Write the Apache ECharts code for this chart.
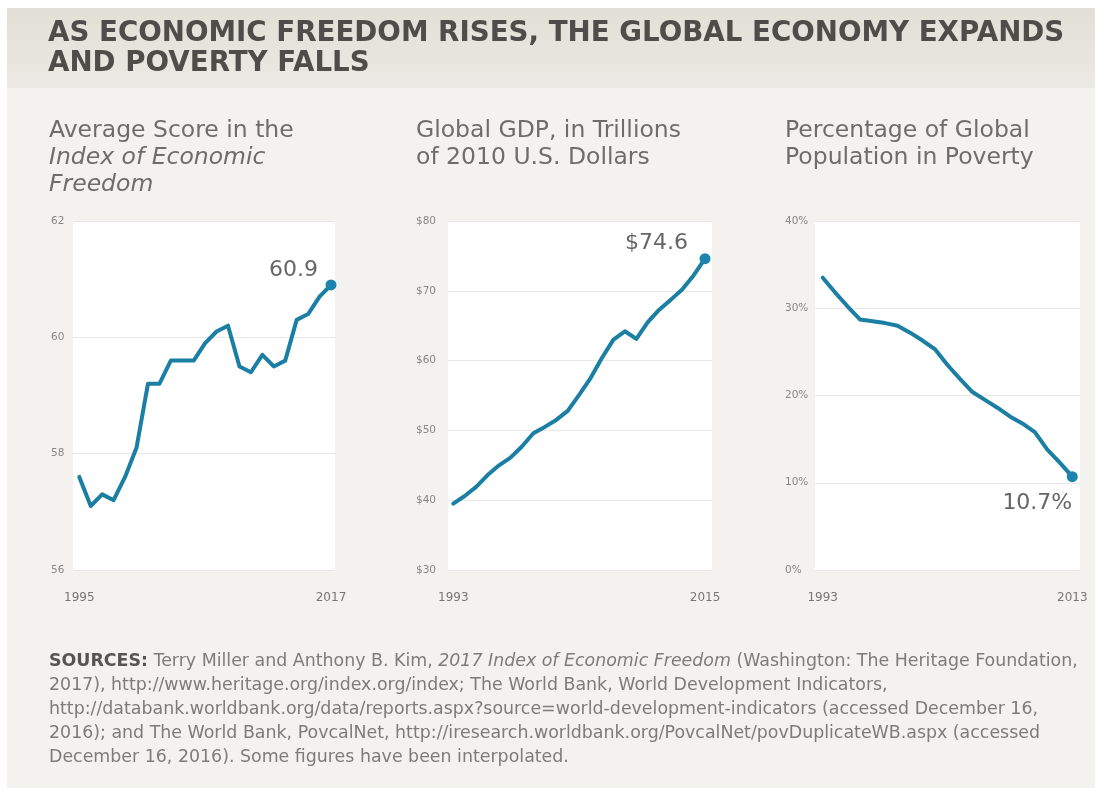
<!DOCTYPE html>
<html>
<head>
<meta charset="utf-8">
<script src="https://cdn.jsdelivr.net/npm/echarts@6/dist/echarts.min.js"></script>
<style>
  html, body { margin: 0; padding: 0; background: #ffffff; }
  #chart { width: 1095px; height: 788px; }
</style>
</head>
<body>
<div id="chart"></div>
<script>
// Average score in the Index of Economic Freedom, 1995–2017
const freedomYears = [1995, 1996, 1997, 1998, 1999, 2000, 2001, 2002, 2003, 2004, 2005, 2006,
  2007, 2008, 2009, 2010, 2011, 2012, 2013, 2014, 2015, 2016, 2017];
const freedomScores = [57.6, 57.1, 57.3, 57.2, 57.6, 58.1, 59.2, 59.2, 59.6, 59.6, 59.6, 59.9,
  60.1, 60.2, 59.5, 59.4, 59.7, 59.5, 59.6, 60.3, 60.4, 60.7, 60.9];
const freedomTicks = [56, 58, 60, 62];

// Global GDP, trillions of 2010 U.S. dollars, 1993–2015
const gdpYears = [1993, 1994, 1995, 1996, 1997, 1998, 1999, 2000, 2001, 2002, 2003, 2004,
  2005, 2006, 2007, 2008, 2009, 2010, 2011, 2012, 2013, 2014, 2015];
const gdpTrillions = [39.5, 40.6, 41.9, 43.6, 45.0, 46.1, 47.7, 49.6, 50.5, 51.5, 52.8, 55.1,
  57.5, 60.4, 63.0, 64.2, 63.1, 65.5, 67.3, 68.7, 70.2, 72.2, 74.6];
const gdpTicks = [30, 40, 50, 60, 70, 80];

// Share of world population in poverty (%), 1993–2013
const povertyYears = [1993, 1994, 1995, 1996, 1997, 1998, 1999, 2000, 2001, 2002, 2003, 2004,
  2005, 2006, 2007, 2008, 2009, 2010, 2011, 2012, 2013];
const povertyPct = [33.5, 31.8, 30.2, 28.7, 28.5, 28.3, 28.0, 27.2, 26.3, 25.3, 23.5, 21.9,
  20.4, 19.5, 18.6, 17.6, 16.8, 15.8, 13.8, 12.3, 10.7];
const povertyTicks = [0, 10, 20, 30, 40];

const titleLines = [
  'AS ECONOMIC FREEDOM RISES, THE GLOBAL ECONOMY EXPANDS',
  'AND POVERTY FALLS'
];

const FONT = 'DejaVu Sans';
const LINE_COLOR = '#1b7fa4';
const DOT_COLOR = '#1c84ad';
const LABEL_GREY = '#878787';

// Panel layout: plot box and where its y labels start
const panels = [
  { years: freedomYears, values: freedomScores, ticks: freedomTicks,
    left: 73, width: 262, labelX: 51, xMin: 1994.45, xMax: 2017.35,
    yFmt: v => String(v), endFmt: v => v.toFixed(1), endOffset: [-13, -15] },
  { years: gdpYears, values: gdpTrillions, ticks: gdpTicks,
    left: 448, width: 264, labelX: 416, xMin: 1992.54, xMax: 2015.61,
    yFmt: v => '$' + v, endFmt: v => '$' + v.toFixed(1), endOffset: [-17, -15] },
  { years: povertyYears, values: povertyPct, ticks: povertyTicks,
    left: 815, width: 265, labelX: 785, xMin: 1992.38, xMax: 2013.62,
    yFmt: v => v + '%', endFmt: v => v.toFixed(1) + '%', endOffset: [0, 27] }
];

const GRID_TOP = 221;
const GRID_HEIGHT = 349;

const grids = [], xAxes = [], yAxes = [], series = [];
panels.forEach((p, i) => {
  grids.push({
    left: p.left, top: GRID_TOP, width: p.width, height: GRID_HEIGHT,
    show: true, backgroundColor: '#ffffff', borderWidth: 0, containLabel: false
  });
  const firstYear = p.years[0];
  const lastYear = p.years[p.years.length - 1];
  xAxes.push({
    type: 'value', gridIndex: i, min: p.xMin, max: p.xMax,
    axisLine: { show: false }, axisTick: { show: false }, splitLine: { show: false },
    axisLabel: {
      customValues: [firstYear, lastYear],
      formatter: v => String(Math.round(v)),
      color: '#767676', fontSize: 12, fontFamily: FONT, margin: 22
    }
  });
  const t = p.ticks;
  yAxes.push({
    type: 'value', gridIndex: i,
    min: t[0], max: t[t.length - 1], interval: t[1] - t[0],
    axisLine: { show: false }, axisTick: { show: false },
    splitLine: { show: true, lineStyle: { color: '#e8e8e8', width: 1 } },
    axisLabel: {
      align: 'left', margin: p.left - p.labelX,
      color: LABEL_GREY, fontSize: 10.5, fontFamily: FONT,
      formatter: p.yFmt
    }
  });
  series.push({
    type: 'line', xAxisIndex: i, yAxisIndex: i, silent: true,
    data: p.years.map((y, k) => [y, p.values[k]]),
    showSymbol: false, symbol: 'none',
    lineStyle: { color: LINE_COLOR, width: 4, join: 'round', cap: 'round' },
    z: 2
  });
  const lastVal = p.values[p.values.length - 1];
  series.push({
    type: 'scatter', xAxisIndex: i, yAxisIndex: i, silent: true,
    data: [[lastYear, lastVal]],
    symbol: 'circle', symbolSize: 11,
    itemStyle: { color: DOT_COLOR, opacity: 1 },
    label: {
      show: true,
      position: ['50%', '50%'],
      offset: p.endOffset,
      align: 'right', verticalAlign: 'middle',
      formatter: () => p.endFmt(lastVal),
      fontFamily: FONT, fontSize: 22, color: '#666666'
    },
    z: 3
  });
});

const SUB_SIZE = 23.5;
const subtitleStyle = {
  fontFamily: FONT, fontSize: SUB_SIZE, lineHeight: 27, fill: '#6d6d6d',
  verticalAlign: 'top', align: 'left'
};

const FOOT_SIZE = 17.4;
const footerLines = [
  '{b|SOURCES:} Terry Miller and Anthony B. Kim, {i|2017 Index of Economic Freedom} (Washington: The Heritage Foundation,',
  '2017), http://www.heritage.org/index.org/index; The World Bank, World Development Indicators,',
  'http://databank.worldbank.org/data/reports.aspx?source=world-development-indicators (accessed December 16,',
  '2016); and The World Bank, PovcalNet, http://iresearch.worldbank.org/PovcalNet/povDuplicateWB.aspx (accessed',
  'December 16, 2016). Some figures have been interpolated.'
];

const graphics = [
  // cream panel and tinted heading band
  { type: 'rect', z: -100, silent: true, shape: { x: 7, y: 8, width: 1088, height: 780 },
    style: { fill: '#f4f2ee' } },
  { type: 'rect', z: -99, silent: true, shape: { x: 7, y: 8, width: 1088, height: 80 },
    style: { fill: { type: 'linear', x: 0, y: 0, x2: 0, y2: 1,
      colorStops: [{ offset: 0, color: '#e2dfd6' }, { offset: 1, color: '#ebe9e3' }] } } },
  { type: 'text', x: 48, y: 19, silent: true,
    style: { text: titleLines.join('\n'), fontFamily: FONT, fontWeight: 'bold', fontSize: 27.7,
      lineHeight: 30, fill: '#4f4d49', verticalAlign: 'top' } },
  { type: 'text', x: 49, y: 117, silent: true,
    style: Object.assign({}, subtitleStyle, {
      text: 'Average Score in the\n{i|Index of Economic}\n{i|Freedom}',
      rich: { i: { fontStyle: 'italic', fontFamily: FONT, fontSize: SUB_SIZE, lineHeight: 27, fill: '#6d6d6d' } }
    }) },
  { type: 'text', x: 416, y: 117, silent: true,
    style: Object.assign({}, subtitleStyle, { text: 'Global GDP, in Trillions\nof 2010 U.S. Dollars' }) },
  { type: 'text', x: 785, y: 117, silent: true,
    style: Object.assign({}, subtitleStyle, { text: 'Percentage of Global\nPopulation in Poverty' }) },
  { type: 'text', x: 49, y: 649, silent: true,
    style: {
      text: footerLines.join('\n'),
      fontFamily: FONT, fontSize: FOOT_SIZE, lineHeight: 24, fill: '#7c7c7c', verticalAlign: 'top',
      rich: {
        b: { fontFamily: FONT, fontWeight: 'bold', fontSize: FOOT_SIZE, lineHeight: 24, fill: '#555555' },
        i: { fontFamily: FONT, fontStyle: 'italic', fontSize: FOOT_SIZE, lineHeight: 24, fill: '#7c7c7c' }
      }
    } }
];

const chart = echarts.init(document.getElementById('chart'), null, { renderer: 'canvas' });
chart.setOption({
  backgroundColor: '#ffffff',
  animation: false,
  textStyle: { fontFamily: FONT },
  grid: grids,
  xAxis: xAxes,
  yAxis: yAxes,
  series: series,
  graphic: { elements: graphics }
});
</script>
</body>
</html>
